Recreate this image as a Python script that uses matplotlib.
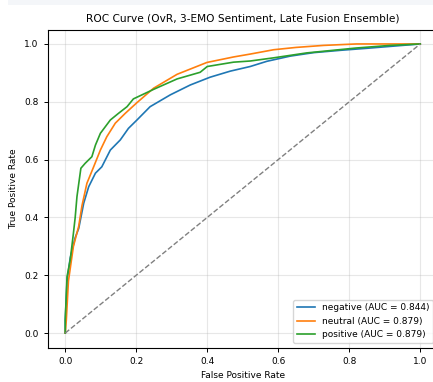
import numpy as np
import matplotlib.pyplot as plt
from matplotlib.patches import Rectangle

# ROC points (fpr, tpr)
neg_fpr = [0.0, 0.0, 0.005, 0.014, 0.028, 0.038, 0.052, 0.066, 0.085, 0.103, 0.127, 0.155, 0.178,
           0.202, 0.239, 0.296, 0.352, 0.408, 0.465, 0.521, 0.568, 0.634, 0.70, 0.775, 0.85, 0.93, 1.0]
neg_tpr = [0.0, 0.045, 0.18, 0.26, 0.33, 0.362, 0.449, 0.506, 0.553, 0.575, 0.633, 0.668, 0.708,
           0.737, 0.783, 0.824, 0.858, 0.885, 0.906, 0.922, 0.94, 0.958, 0.97, 0.978, 0.985, 0.993, 1.0]

neu_fpr = [0.0, 0.003, 0.009, 0.023, 0.038, 0.047, 0.061, 0.08, 0.099, 0.117, 0.141, 0.169, 0.202,
           0.249, 0.315, 0.399, 0.474, 0.521, 0.587, 0.65, 0.728, 0.82, 0.9, 1.0]
neu_tpr = [0.0, 0.045, 0.18, 0.30, 0.37, 0.44, 0.518, 0.575, 0.633, 0.679, 0.726, 0.76, 0.797,
           0.847, 0.895, 0.936, 0.955, 0.965, 0.98, 0.988, 0.995, 1.0, 1.0, 1.0]

pos_fpr = [0.0, 0.0, 0.005, 0.014, 0.023, 0.028, 0.033, 0.044, 0.056, 0.075, 0.085, 0.099, 0.127,
           0.15, 0.174, 0.192, 0.249, 0.315, 0.38, 0.40, 0.474, 0.521, 0.587, 0.68, 0.82, 0.915, 1.0]
pos_tpr = [0.0, 0.045, 0.195, 0.253, 0.345, 0.40, 0.472, 0.57, 0.587, 0.61, 0.65, 0.691, 0.737,
           0.76, 0.783, 0.81, 0.843, 0.879, 0.902, 0.922, 0.937, 0.941, 0.952, 0.969, 0.986, 0.995, 1.0]

labels = ['negative', 'neutral', 'positive']
aucs = [0.844, 0.879, 0.879]

W, H = 433, 382
fig = plt.figure(figsize=(W / 100, H / 100), dpi=100)
# faint strip at the very top of the screenshot
fig.patches.append(Rectangle((8 / W, 1 - 5 / H), 1, 5 / H, transform=fig.transFigure,
                             facecolor='#f4f6f9', edgecolor='none'))

ax = fig.add_axes([47.5 / W, 34.5 / H, 390.5 / W, 318 / H])

curves = [(neg_fpr, neg_tpr), (neu_fpr, neu_tpr), (pos_fpr, pos_tpr)]
for (fpr, tpr), lab, auc in zip(curves, labels, aucs):
    ax.plot(fpr, tpr, lw=1.2, label=f'{lab} (AUC = {auc:.3f})')

ax.plot([0, 1], [0, 1], '--', color='gray', lw=1)
ax.set_xlim(-0.05, 1.05)
ax.set_ylim(-0.05, 1.05)
ax.set_xticks([0, 0.2, 0.4, 0.6, 0.8, 1.0])
ax.set_yticks([0, 0.2, 0.4, 0.6, 0.8, 1.0])
ax.tick_params(labelsize=6.5, length=3, width=0.7)
for s in ax.spines.values():
    s.set_linewidth(0.8)
ax.grid(True, alpha=0.3)
ax.set_xlabel('False Positive Rate', fontsize=6.5)
ax.set_ylabel('True Positive Rate', fontsize=6.5)
ax.set_title('ROC Curve (OvR, 3-EMO Sentiment, Late Fusion Ensemble)', fontsize=7.6)
ax.legend(loc='lower right', fontsize=6.5)

fig.savefig('out.png', dpi=100)
